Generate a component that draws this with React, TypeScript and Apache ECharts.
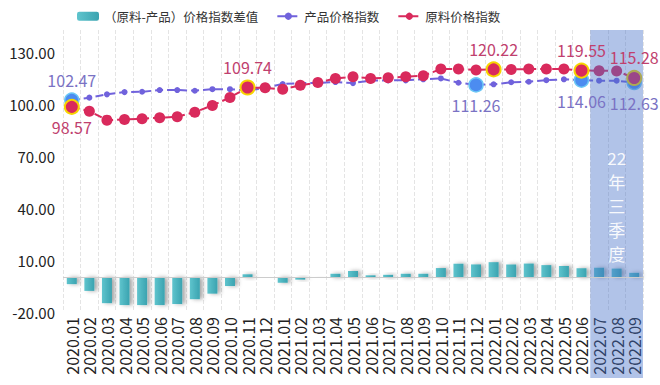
import React, { useEffect, useRef } from 'react';
import * as echarts from 'echarts';

const categories = [
  '2020.01', '2020.02', '2020.03', '2020.04', '2020.05', '2020.06', '2020.07', '2020.08', '2020.09', '2020.10', '2020.11', '2020.12',
  '2021.01', '2021.02', '2021.03', '2021.04', '2021.05', '2021.06', '2021.07', '2021.08', '2021.09', '2021.10', '2021.11', '2021.12',
  '2022.01', '2022.02', '2022.03', '2022.04', '2022.05', '2022.06', '2022.07', '2022.08', '2022.09',
];

const productIndex = [
  102.47, 103.9, 105.8, 107.1, 107.3, 108.3, 108.3, 107.9, 108.8, 108.8, 108.0, 109.5,
  111.8, 112.3, 112.4, 112.9, 112.3, 113.8, 113.9, 113.9, 114.5, 115.0, 112.5, 111.26,
  111.6, 112.8, 113.1, 114.0, 114.5, 114.06, 113.7, 113.7, 112.63,
];

const rawIndex = [
  98.57, 96.1, 90.9, 91.3, 91.7, 92.3, 92.9, 95.5, 99.4, 104.0, 109.74, 109.6,
  108.7, 111.0, 112.6, 115.0, 116.0, 115.0, 115.4, 116.0, 116.6, 120.4, 120.4, 119.9,
  120.22, 120.2, 120.4, 120.4, 120.4, 119.55, 119.5, 119.3, 115.28,
];

const diffIndex = [
  -3.9, -7.8, -14.9, -16.0, -16.0, -16.0, -15.4, -12.6, -9.4, -5.0, 1.8, 0.1,
  -3.1, -1.3, 0.2, 2.1, 3.7, 1.2, 1.5, 2.1, 2.1, 5.4, 7.9, 7.5,
  8.8, 7.5, 8.0, 7.1, 6.6, 5.3, 5.6, 5.1, 2.65,
];

const seriesNames = ['（原料-产品）价格指数差值', '产品价格指数', '原料价格指数'];

const productMarks = [0, 23, 29, 32];
const productLabelPos = ['top', 'bottom', 'bottom', 'bottom'];
const rawMarks = [0, 10, 24, 29, 32];
const rawLabelPos = ['bottom', 'top', 'top', 'top', 'top'];

const yMin = -20;
const yMax = 143;
const yInterval = 30;

const shadeRange = ['2022.07', '2022.09'];
const shadeText = '22\n年\n三\n季\n度';

const FONT = "'Noto Sans CJK SC', 'Noto Sans', sans-serif";
const PURPLE = '#7062dc';
const RED = '#d92a5c';

export default function App() {
  const ref = useRef<HTMLDivElement>(null);

  useEffect(() => {
    if (!ref.current) return;
    const chart = echarts.init(ref.current, undefined, { renderer: 'svg' });

    const productData = productIndex.map((v, i) =>
      productMarks.includes(i)
        ? { value: v, symbolSize: 14, itemStyle: { color: '#4c8cf0', borderColor: '#6cc8f5', borderWidth: 1.5 } }
        : v
    );
    const rawData = rawIndex.map((v, i) =>
      rawMarks.includes(i)
        ? { value: v, symbolSize: 14, itemStyle: { color: RED, borderColor: '#f7d400', borderWidth: 2 } }
        : v
    );

    const option: any = {
      animation: false,
      textStyle: { fontFamily: FONT },
      legend: {
        top: 5,
        left: 72,
        itemWidth: 22,
        itemHeight: 9,
        itemGap: 18,
        textStyle: { fontSize: 12.5, color: '#333', fontFamily: FONT },
        data: seriesNames,
      },
      grid: { left: 63, right: 17, top: 30, bottom: 73, containLabel: false },
      xAxis: {
        type: 'category',
        data: categories,
        boundaryGap: true,
        axisLine: { show: false },
        axisTick: { show: false },
        axisLabel: { rotate: 90, fontSize: 16, color: '#222', interval: 0, margin: 5 },
        splitLine: { show: true, interval: 0, lineStyle: { color: '#e4e4e4', type: 'dashed' } },
      },
      yAxis: {
        type: 'value',
        min: yMin,
        max: yMax,
        interval: yInterval,
        axisLine: { show: false },
        axisTick: { show: false },
        splitLine: { show: false },
        axisLabel: {
          fontSize: 15,
          color: '#222',
          margin: 8,
          showMaxLabel: false,
          formatter: (v: number) => v.toFixed(2),
        },
      },
      series: [
        {
          name: seriesNames[0],
          type: 'bar',
          data: diffIndex,
          barWidth: 10,
          itemStyle: {
            color: new echarts.graphic.LinearGradient(0, 0, 1, 0, [
              { offset: 0, color: '#5fc4cd' },
              { offset: 1, color: '#3aa3b0' },
            ]),
            shadowColor: 'rgba(0,0,0,0.35)',
            shadowBlur: 4,
            shadowOffsetX: 3,
          },
          markLine: {
            silent: true,
            symbol: 'none',
            label: { show: false },
            lineStyle: { color: '#cccccc', type: 'solid', width: 1 },
            data: [{ yAxis: 0 }],
          },
        },
        {
          name: seriesNames[1],
          type: 'line',
          data: productData,
          symbol: 'circle',
          symbolSize: 6,
          itemStyle: { color: PURPLE },
          lineStyle: { color: PURPLE, width: 2, type: [8, 4] },
          markPoint: {
            symbol: 'circle',
            symbolSize: 1,
            itemStyle: { color: 'rgba(0,0,0,0)' },
            label: {
              show: true,
              fontSize: 16,
              color: '#7a72c4',
              distance: 12,
              formatter: (p: any) => Number(p.value).toFixed(2),
            },
            data: productMarks.map((i, k) => ({
              coord: [categories[i], productIndex[i]],
              value: productIndex[i],
              label: { position: productLabelPos[k] },
            })),
          },
        },
        {
          name: seriesNames[2],
          type: 'line',
          data: rawData,
          symbol: 'circle',
          symbolSize: 11,
          itemStyle: { color: RED },
          lineStyle: { color: RED, width: 2, type: [8, 4] },
          markPoint: {
            symbol: 'circle',
            symbolSize: 1,
            itemStyle: { color: 'rgba(0,0,0,0)' },
            label: {
              show: true,
              fontSize: 16,
              color: '#c0406e',
              distance: 12,
              formatter: (p: any) => Number(p.value).toFixed(2),
            },
            data: rawMarks.map((i, k) => ({
              coord: [categories[i], rawIndex[i]],
              value: rawIndex[i],
              label: { position: rawLabelPos[k] },
            })),
          },
        },
      ],
    };

    chart.setOption(option);

    const x1 = chart.convertToPixel({ xAxisIndex: 0 }, shadeRange[0]) as number;
    const x2 = chart.convertToPixel({ xAxisIndex: 0 }, shadeRange[1]) as number;
    const step =
      (chart.convertToPixel({ xAxisIndex: 0 }, categories[1]) as number) -
      (chart.convertToPixel({ xAxisIndex: 0 }, categories[0]) as number);
    const top = chart.convertToPixel({ yAxisIndex: 0 }, yMax) as number;
    const bottom = (chart.convertToPixel({ yAxisIndex: 0 }, yMin) as number) + 66;

    chart.setOption({
      graphic: [
        {
          type: 'rect',
          z: 4,
          silent: true,
          shape: { x: x1 - step / 2, y: top, width: x2 - x1 + step, height: bottom - top },
          style: { fill: 'rgba(70,112,200,0.42)' },
        },
        {
          type: 'text',
          z: 6,
          silent: true,
          x: (x1 + x2) / 2,
          y: top + 115,
          style: {
            text: shadeText,
            fill: 'rgba(255,255,255,0.92)',
            fontSize: 17,
            fontFamily: FONT,
            align: 'center',
            verticalAlign: 'top',
            lineHeight: 24,
          },
        },
      ],
    });

    return () => chart.dispose();
  }, []);

  return (
    <div
      ref={ref}
      style={{ position: 'fixed', left: 0, top: 0, width: 660, height: 385, background: '#fff' }}
    />
  );
}
